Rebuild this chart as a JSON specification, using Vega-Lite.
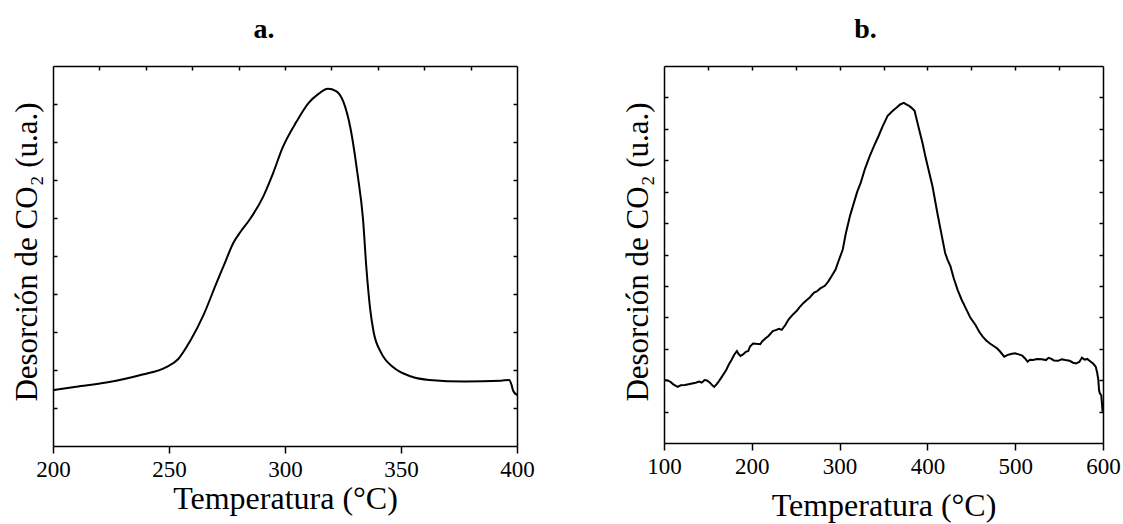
{
  "$schema": "https://vega.github.io/schema/vega-lite/v6.json",
  "autosize": {"type": "none"},
  "padding": {"left": 53, "top": 66, "right": 1070, "bottom": 458},
  "background": "white",
  "config": {
    "font": "Liberation Serif",
    "view": {"stroke": null},
    "axis": {"grid": false, "domainColor": "black", "tickColor": "black", "domainWidth": 1.5, "tickWidth": 1.5, "labelColor": "black", "titleColor": "black", "labelFont": "Liberation Serif", "titleFont": "Liberation Serif", "titleFontWeight": "normal", "labelFontSize": 23, "titleFontSize": 32, "labelFlush": false, "labelOverlap": false},
    "axisLeft": {"titleFontSize": 31},
    "title": {"font": "Liberation Serif", "fontSize": 28, "fontWeight": "bold", "color": "black"}
  },
  "datasets": {
    "a": [
      {"T": 200, "v": 14.7}, {"T": 210, "v": 15.6}, {"T": 223, "v": 16.7}, {"T": 238.6, "v": 18.8}, {"T": 248.6, "v": 20.7},
      {"T": 254, "v": 22.9}, {"T": 259, "v": 27.5}, {"T": 264.9, "v": 34.5}, {"T": 270.4, "v": 42.8}, {"T": 274.1, "v": 48.2},
      {"T": 277.6, "v": 53.3}, {"T": 281, "v": 56.5}, {"T": 284.8, "v": 59.6}, {"T": 290.5, "v": 65.5}, {"T": 294.8, "v": 71.7},
      {"T": 299.1, "v": 78.7}, {"T": 304.9, "v": 85.3}, {"T": 310.2, "v": 90.3}, {"T": 314.3, "v": 92.6}, {"T": 318.5, "v": 94.0},
      {"T": 322, "v": 93.4}, {"T": 325.1, "v": 90.7}, {"T": 328.2, "v": 83.7}, {"T": 331.3, "v": 71.4}, {"T": 333.6, "v": 59.9},
      {"T": 335.1, "v": 46.7}, {"T": 336.7, "v": 36.1}, {"T": 338.2, "v": 30.0}, {"T": 341.3, "v": 24.7}, {"T": 346.7, "v": 20.7},
      {"T": 354.4, "v": 18.3}, {"T": 362.2, "v": 17.4}, {"T": 377.6, "v": 17.0}, {"T": 393.1, "v": 17.2}, {"T": 396.6, "v": 17.4},
      {"T": 397.6, "v": 16.2}, {"T": 398.3, "v": 14.6}, {"T": 400, "v": 13.4}
    ],
    "b": [
      {"T": 100, "v": 16.7}, {"T": 104, "v": 16.6}, {"T": 107.4, "v": 16.2}, {"T": 111, "v": 15.5}, {"T": 115.5, "v": 14.9},
      {"T": 119, "v": 15.3}, {"T": 123.7, "v": 15.4}, {"T": 128, "v": 15.6}, {"T": 131.9, "v": 15.8}, {"T": 136, "v": 16.0},
      {"T": 140.1, "v": 16.3}, {"T": 143, "v": 16.0}, {"T": 146.2, "v": 16.7}, {"T": 149, "v": 16.6}, {"T": 152.3, "v": 16.0},
      {"T": 155, "v": 15.3}, {"T": 157.2, "v": 14.9}, {"T": 160, "v": 15.6}, {"T": 162.6, "v": 16.4}, {"T": 166, "v": 17.6},
      {"T": 170.7, "v": 19.3}, {"T": 174, "v": 20.9}, {"T": 176.9, "v": 22.0}, {"T": 180, "v": 23.4}, {"T": 183, "v": 24.4},
      {"T": 185, "v": 23.6}, {"T": 187.1, "v": 23.1}, {"T": 190, "v": 23.5}, {"T": 193.2, "v": 24.2}, {"T": 196, "v": 24.4},
      {"T": 198, "v": 25.6}, {"T": 201.4, "v": 26.4}, {"T": 205, "v": 26.3}, {"T": 209.6, "v": 26.2}, {"T": 212, "v": 27.0},
      {"T": 215.7, "v": 27.8}, {"T": 219, "v": 28.4}, {"T": 223.9, "v": 29.7}, {"T": 228, "v": 30.0}, {"T": 231, "v": 30.3},
      {"T": 234.1, "v": 30.0}, {"T": 238.2, "v": 31.3}, {"T": 242, "v": 32.8}, {"T": 246.4, "v": 34.0}, {"T": 251, "v": 35.0},
      {"T": 254, "v": 35.9}, {"T": 258.6, "v": 37.1}, {"T": 262, "v": 37.8}, {"T": 266, "v": 38.6}, {"T": 270.9, "v": 39.9},
      {"T": 274, "v": 40.2}, {"T": 278, "v": 41.0}, {"T": 283.2, "v": 41.7}, {"T": 287, "v": 42.8}, {"T": 291, "v": 44.3},
      {"T": 295.4, "v": 46.0}, {"T": 299, "v": 48.4}, {"T": 303.6, "v": 51.3}, {"T": 307, "v": 55.5}, {"T": 311.8, "v": 60.2},
      {"T": 316, "v": 63.5}, {"T": 320, "v": 66.6}, {"T": 324, "v": 69.0}, {"T": 329, "v": 72.8}, {"T": 334.3, "v": 76.1},
      {"T": 339, "v": 78.7}, {"T": 344.5, "v": 81.5}, {"T": 349, "v": 84.0}, {"T": 354.7, "v": 86.8}, {"T": 360, "v": 88.0},
      {"T": 365, "v": 89.0}, {"T": 369, "v": 89.8}, {"T": 373.1, "v": 90.2}, {"T": 376, "v": 89.8}, {"T": 379.2, "v": 89.4},
      {"T": 382, "v": 88.9}, {"T": 385.4, "v": 88.1}, {"T": 388, "v": 85.6}, {"T": 391.5, "v": 82.3}, {"T": 394.5, "v": 79.5},
      {"T": 397.6, "v": 76.1}, {"T": 401.5, "v": 72.3}, {"T": 405.8, "v": 68.1}, {"T": 409, "v": 64.0}, {"T": 412, "v": 60.2},
      {"T": 416, "v": 55.4}, {"T": 420.2, "v": 50.4}, {"T": 423, "v": 48.6}, {"T": 426.2, "v": 46.9}, {"T": 430, "v": 43.7},
      {"T": 434.4, "v": 40.6}, {"T": 439, "v": 38.0}, {"T": 444.6, "v": 35.3}, {"T": 449, "v": 33.2}, {"T": 454.8, "v": 31.3},
      {"T": 459, "v": 29.5}, {"T": 463, "v": 28.2}, {"T": 467, "v": 27.2}, {"T": 471.2, "v": 26.4}, {"T": 475, "v": 25.8},
      {"T": 479.3, "v": 25.1}, {"T": 483, "v": 24.2}, {"T": 487.5, "v": 22.9}, {"T": 491, "v": 23.3}, {"T": 495, "v": 23.6},
      {"T": 499.8, "v": 23.8}, {"T": 504, "v": 23.5}, {"T": 508, "v": 23.2}, {"T": 511, "v": 22.5}, {"T": 514.1, "v": 21.6},
      {"T": 517, "v": 22.1}, {"T": 520.3, "v": 22.0}, {"T": 525, "v": 22.3}, {"T": 530.5, "v": 22.2}, {"T": 535, "v": 22.0},
      {"T": 538, "v": 22.6}, {"T": 540.7, "v": 22.4}, {"T": 544, "v": 21.9}, {"T": 548.9, "v": 21.8}, {"T": 553, "v": 22.2},
      {"T": 557.1, "v": 22.0}, {"T": 562, "v": 21.8}, {"T": 566, "v": 21.3}, {"T": 569.3, "v": 21.1}, {"T": 573, "v": 21.5},
      {"T": 576, "v": 22.6}, {"T": 579, "v": 22.1}, {"T": 582, "v": 22.3}, {"T": 585.7, "v": 21.6}, {"T": 589, "v": 21.0},
      {"T": 591.8, "v": 20.2}, {"T": 593.5, "v": 18.5}, {"T": 594.7, "v": 16.7}, {"T": 595.5, "v": 14.0}, {"T": 596.5, "v": 13.1},
      {"T": 598, "v": 12.7}, {"T": 598.8, "v": 10.5}, {"T": 599.5, "v": 8.3}
    ]
  },
  "bounds": "flush",
  "spacing": 147,
  "hconcat": [
    {
      "width": 464,
      "height": 380,
      "title": {"text": "a.", "dx": -21, "offset": -1, "baseline": "alphabetic"},
      "data": {"name": "a"},
      "layer": [
        {
          "mark": {"type": "line", "color": "black", "strokeWidth": 2, "interpolate": "monotone"},
          "encoding": {
            "x": {"field": "T", "type": "quantitative", "scale": {"domain": [200, 400], "nice": false, "zero": false},
              "axis": {"orient": "bottom", "values": [200, 250, 300, 350, 400], "tickSize": 7, "labelPadding": 5, "title": "Temperatura (°C)", "titleX": 232, "titleY": 62, "titleBaseline": "alphabetic", "titleAlign": "center", "titleAngle": 0}},
            "y": {"field": "v", "type": "quantitative", "scale": {"domain": [0, 100], "nice": false, "zero": false},
              "axis": {"orient": "left", "values": [10, 20, 30, 40, 50, 60, 70, 80, 90], "labels": false, "tickSize": -4, "title": "Desorción de CO₂ (u.a.)", "titleX": -26, "titleY": 185.5, "titleAngle": 270, "titleBaseline": "middle", "titleAlign": "center"}}
          }
        },
        {
          "mark": {"type": "line", "opacity": 0},
          "encoding": {
            "x": {"field": "T", "type": "quantitative", "scale": {"domain": [200, 400], "nice": false, "zero": false},
              "axis": {"orient": "top", "values": [220, 240, 260, 280, 300, 320, 340, 360, 380], "labels": false, "tickSize": -4, "title": null}},
            "y": {"field": "v", "type": "quantitative", "scale": {"domain": [0, 100], "nice": false, "zero": false},
              "axis": {"orient": "right", "values": [10, 20, 30, 40, 50, 60, 70, 80, 90], "labels": false, "tickSize": -4, "title": null}}
          }
        }
      ],
      "resolve": {"axis": {"x": "independent", "y": "independent"}}
    },
    {
      "width": 439,
      "height": 377,
      "title": {"text": "b.", "dx": -18, "offset": -1, "baseline": "alphabetic"},
      "data": {"name": "b"},
      "layer": [
        {
          "mark": {"type": "line", "color": "black", "strokeWidth": 2},
          "encoding": {
            "x": {"field": "T", "type": "quantitative", "scale": {"domain": [100, 600], "nice": false, "zero": false},
              "axis": {"orient": "bottom", "values": [100, 200, 300, 400, 500, 600], "tickSize": 7, "labelPadding": 5, "title": "Temperatura (°C)", "titleX": 219.5, "titleY": 72, "titleBaseline": "alphabetic", "titleAlign": "center", "titleAngle": 0}},
            "y": {"field": "v", "type": "quantitative", "scale": {"domain": [0, 100], "nice": false, "zero": false},
              "axis": {"orient": "left", "values": [8.333, 16.667, 25, 33.333, 41.667, 50, 58.333, 66.667, 75, 83.333, 91.667], "labels": false, "tickSize": -4, "title": "Desorción de CO₂ (u.a.)", "titleX": -26, "titleY": 185.5, "titleAngle": 270, "titleBaseline": "middle", "titleAlign": "center"}}
          }
        },
        {
          "mark": {"type": "line", "opacity": 0},
          "encoding": {
            "x": {"field": "T", "type": "quantitative", "scale": {"domain": [100, 600], "nice": false, "zero": false},
              "axis": {"orient": "top", "values": [150, 200, 250, 300, 350, 400, 450, 500, 550], "labels": false, "tickSize": -4, "title": null}},
            "y": {"field": "v", "type": "quantitative", "scale": {"domain": [0, 100], "nice": false, "zero": false},
              "axis": {"orient": "right", "values": [8.333, 16.667, 25, 33.333, 41.667, 50, 58.333, 66.667, 75, 83.333, 91.667], "labels": false, "tickSize": -4, "title": null}}
          }
        }
      ],
      "resolve": {"axis": {"x": "independent", "y": "independent"}}
    }
  ]
}
